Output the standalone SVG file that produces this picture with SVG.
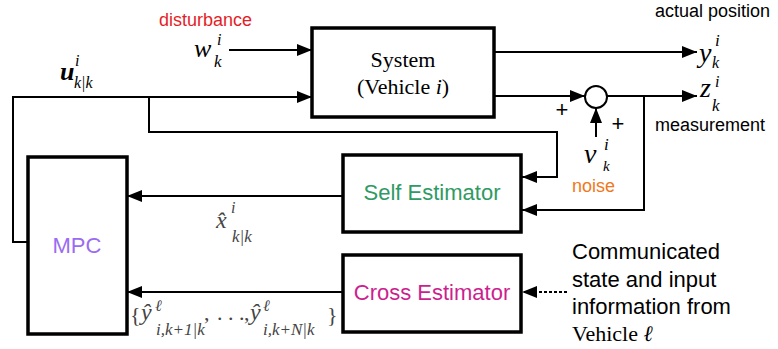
<svg xmlns="http://www.w3.org/2000/svg" width="778" height="349" viewBox="0 0 778 349">
<defs>
<style>
.box{fill:#fff;stroke:#000;stroke-width:3.5}
.ln{fill:none;stroke:#000;stroke-width:2}
.sans{font-family:"Liberation Sans",Arial,sans-serif}
.lbl{font-family:"Liberation Sans",Arial,sans-serif;font-size:18px}
.big{font-family:"Liberation Sans",Arial,sans-serif;font-size:22px}
.m{font-family:"Liberation Serif","Times New Roman",serif;font-style:italic}
.r{font-family:"Liberation Serif","Times New Roman",serif}
.g{fill:#444}
</style>
<marker id="ah" markerUnits="userSpaceOnUse" markerWidth="15" markerHeight="12" refX="15" refY="6" orient="auto">
<path d="M0,0 L15,6 L0,12 z" fill="#000"/>
</marker>
</defs>
<rect width="778" height="349" fill="#fff"/>

<g id="connectors">
<line class="ln" x1="229" y1="50" x2="312" y2="50" marker-end="url(#ah)"/>
<polyline class="ln" points="28,242 13,242 13,97 312,97" marker-end="url(#ah)"/>
<polyline class="ln" points="149,97 149,132 557,132 557,177 522,177" marker-end="url(#ah)"/>
<line class="ln" x1="495" y1="52" x2="697" y2="52" marker-end="url(#ah)"/>
<line class="ln" x1="495" y1="96" x2="585" y2="96" marker-end="url(#ah)"/>
<line class="ln" x1="607" y1="96" x2="697" y2="96" marker-end="url(#ah)"/>
<polyline class="ln" points="644,96 644,210 522,210" marker-end="url(#ah)"/>
<line class="ln" x1="596" y1="137" x2="596" y2="108" marker-end="url(#ah)"/>
<line class="ln" x1="343" y1="196" x2="127" y2="196" marker-end="url(#ah)"/>
<line class="ln" x1="343" y1="292" x2="127" y2="292" marker-end="url(#ah)"/>
<line class="ln" x1="567" y1="292" x2="522" y2="292" stroke-dasharray="3,2" marker-end="url(#ah)"/>
</g>

<g id="system">
<rect class="box" x="312" y="28" width="182" height="89"/>
<text class="r" x="403" y="67" font-size="22" text-anchor="middle">System</text>
<text class="r" x="403" y="94" font-size="22" text-anchor="middle">(Vehicle <tspan font-style="italic">i</tspan>)</text>
</g>

<g id="sum">
<circle cx="596" cy="97" r="11" fill="#fff" stroke="#000" stroke-width="2"/>
<text class="sans" x="562" y="117" font-size="22" text-anchor="middle">+</text>
<text class="sans" x="618" y="131" font-size="22" text-anchor="middle">+</text>
</g>

<g id="self-estimator">
<rect class="box" x="343" y="155" width="178" height="77"/>
<text class="big" x="432" y="200" text-anchor="middle" fill="#2f9a63">Self Estimator</text>
</g>

<g id="cross-estimator">
<rect class="box" x="343" y="255" width="178" height="77"/>
<text class="big" x="432" y="300" text-anchor="middle" fill="#cc1f8f">Cross Estimator</text>
</g>

<g id="mpc">
<rect class="box" x="28" y="157" width="99" height="177"/>
<text class="big" x="77" y="253" text-anchor="middle" fill="#9b6cf2">MPC</text>
</g>

<g id="labels">
<text class="lbl" x="159" y="26" fill="#e41e26">disturbance</text>
<text class="lbl" x="655" y="17">actual position</text>
<text class="lbl" x="655" y="131">measurement</text>
<text class="lbl" x="572" y="192" fill="#f07820">noise</text>

<text class="m" x="194" y="57" font-size="26">w</text>
<text class="m" x="217" y="45" font-size="16">i</text>
<text class="m" x="214" y="67" font-size="17">k</text>

<text class="m" x="60" y="80" font-size="26" font-weight="bold">u</text>
<text class="m" x="75" y="66" font-size="16">i</text>
<text class="m" x="74" y="88" font-size="16">k|k</text>

<text class="m" x="699" y="62" font-size="28">y</text>
<text class="m" x="715" y="46" font-size="17">i</text>
<text class="m" x="712" y="68" font-size="16">k</text>

<text class="m" x="700" y="97" font-size="28">z</text>
<text class="m" x="715" y="87" font-size="16">i</text>
<text class="m" x="712" y="111" font-size="17">k</text>

<text class="m" x="584" y="163" font-size="28">v</text>
<text class="m" x="604" y="150" font-size="17">i</text>
<text class="m" x="603" y="171" font-size="15">k</text>

<text class="m g" x="216" y="228" font-size="24">x̂</text>
<text class="m g" x="231" y="213" font-size="16">i</text>
<text class="m g" x="232" y="242" font-size="17">k|k</text>

<text class="r g" x="130" y="322" font-size="22">{</text>
<text class="m g" x="141" y="320" font-size="24">ŷ</text>
<text class="m g" x="155" y="311" font-size="16">ℓ</text>
<text class="m g" x="156" y="335" font-size="17">i,k+1|k</text>
<text class="r g" x="204" y="320" font-size="22">,</text>
<text class="r g" x="217" y="320" font-size="22">. . .</text>
<text class="r g" x="244" y="320" font-size="22">,</text>
<text class="m g" x="250" y="320" font-size="24">ŷ</text>
<text class="m g" x="263" y="311" font-size="16">ℓ</text>
<text class="m g" x="263" y="335" font-size="17">i,k+N|k</text>
<text class="r g" x="327" y="322" font-size="22">}</text>

<text class="big" x="572" y="259">Communicated</text>
<text class="big" x="572" y="287">state and input</text>
<text class="big" x="572" y="314">information from</text>
<text class="r" x="572" y="341" font-size="22">Vehicle <tspan font-style="italic">ℓ</tspan></text>
</g>
</svg>
